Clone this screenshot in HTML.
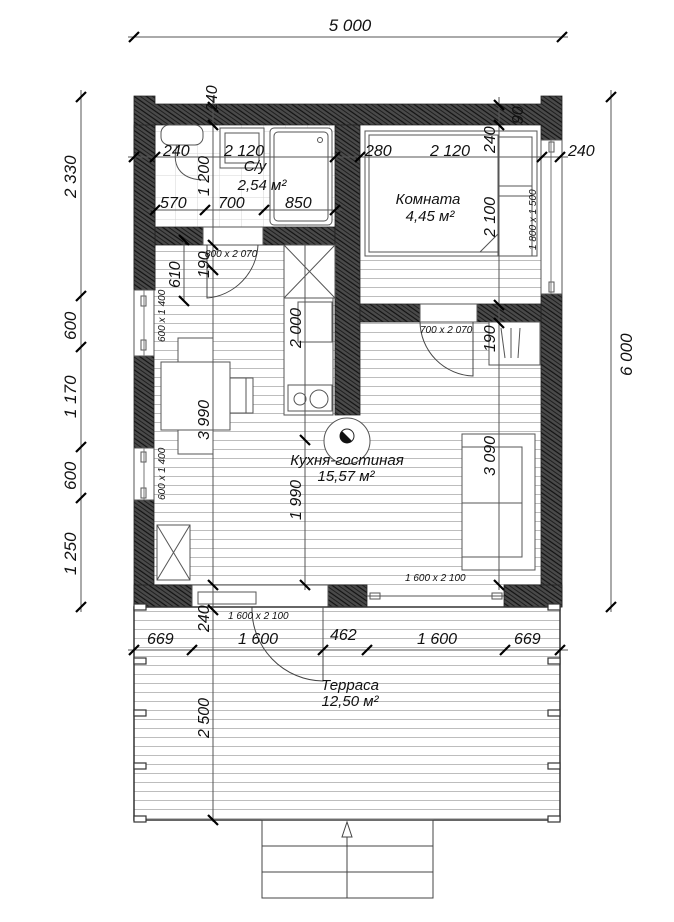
<!DOCTYPE html>
<html><head><meta charset="utf-8"><style>
html,body{margin:0;padding:0;background:#fff;}
svg{display:block;}
text{font-family:"Liberation Sans",sans-serif;font-style:italic;fill:#111;}
</style></head><body>
<svg width="674" height="922" viewBox="0 0 674 922" xmlns="http://www.w3.org/2000/svg">
<defs>
<pattern id="h" width="7" height="7" patternUnits="userSpaceOnUse" patternTransform="rotate(35)">
<rect width="7" height="7" fill="#4a4a4a"/>
<line x1="0" y1="2" x2="7" y2="2" stroke="#111" stroke-width="1.2"/>
<line x1="0" y1="5.5" x2="7" y2="5.5" stroke="#1a1a1a" stroke-width="0.9"/>
</pattern>
<pattern id="fl" width="10" height="9" patternUnits="userSpaceOnUse">
<line x1="0" y1="8.5" x2="10" y2="8.5" stroke="#bdbdbd" stroke-width="1"/>
</pattern>
<pattern id="tile" width="22" height="22" patternUnits="userSpaceOnUse">
<path d="M22 0V22H0" fill="none" stroke="#d4d4d4" stroke-width="1"/>
</pattern>
</defs>

<rect x="154" y="245" width="181" height="340" fill="url(#fl)"/>
<rect x="360" y="322" width="181" height="263" fill="url(#fl)"/>
<rect x="335" y="415" width="25" height="170" fill="url(#fl)"/>
<rect x="360" y="255" width="181" height="49" fill="url(#fl)"/>
<rect x="154" y="125" width="181" height="102" fill="url(#tile)"/>
<rect x="134" y="607" width="426" height="213" fill="url(#fl)"/>

<g fill="url(#h)" stroke="#222" stroke-width="0.8">
<path d="M134 96H155V104H541V96H562V140H541V125H155V290H134Z"/>
<rect x="134" y="356" width="20" height="92"/>
<rect x="134" y="500" width="20" height="107"/>
<rect x="541" y="294" width="21" height="313"/>
<rect x="134" y="585" width="58" height="22"/>
<rect x="328" y="585" width="39" height="22"/>
<rect x="504" y="585" width="58" height="22"/>
<rect x="155" y="227" width="48" height="18"/>
<rect x="263" y="227" width="72" height="18"/>
<rect x="335" y="125" width="25" height="290"/>
<rect x="360" y="304" width="60" height="18"/>
<rect x="477" y="304" width="64" height="18"/>
<rect x="134" y="125" width="21" height="165"/>
</g>
<g fill="#fff" stroke="#555" stroke-width="1">
<rect x="134" y="290" width="20" height="66"/>
<rect x="134" y="448" width="20" height="52"/>
<rect x="141" y="296" width="5" height="10"/><rect x="141" y="340" width="5" height="10"/>
<rect x="141" y="452" width="5" height="10"/><rect x="141" y="488" width="5" height="10"/>
<rect x="541" y="140" width="21" height="154"/>
<rect x="549" y="142" width="5" height="10"/><rect x="549" y="282" width="5" height="10"/>
</g>
<line x1="144" y1="290" x2="144" y2="356" stroke="#777"/>
<line x1="144" y1="448" x2="144" y2="500" stroke="#777"/>
<line x1="551" y1="140" x2="551" y2="294" stroke="#777"/>

<g fill="none" stroke="#555" stroke-width="1">
<rect x="192" y="585" width="136" height="22"/>
<rect x="198" y="592" width="58" height="12"/>
<line x1="367" y1="596" x2="504" y2="596"/>
<rect x="370" y="593" width="10" height="6"/><rect x="492" y="593" width="10" height="6"/>
<rect x="203" y="227" width="60" height="18"/>
<rect x="420" y="304" width="57" height="18"/>
</g>
<g fill="none" stroke="#444" stroke-width="1">
<path d="M207 245V298A56 56 0 0 0 258 245"/>
<path d="M473 322V376A55 55 0 0 1 420 322"/>
<path d="M323 607V681A72 72 0 0 1 252 607"/>
</g>

<rect x="134" y="607" width="426" height="213" fill="none" stroke="#333" stroke-width="1.5"/>
<g fill="#fff" stroke="#333" stroke-width="1.2">
<rect x="134" y="604" width="12" height="6"/><rect x="134" y="658" width="12" height="6"/><rect x="134" y="710" width="12" height="6"/><rect x="134" y="763" width="12" height="6"/><rect x="134" y="816" width="12" height="6"/>
<rect x="548" y="604" width="12" height="6"/><rect x="548" y="658" width="12" height="6"/><rect x="548" y="710" width="12" height="6"/><rect x="548" y="763" width="12" height="6"/><rect x="548" y="816" width="12" height="6"/>
</g>
<g fill="none" stroke="#444" stroke-width="1">
<rect x="262" y="820" width="171" height="78"/>
<line x1="262" y1="846" x2="433" y2="846"/><line x1="262" y1="872" x2="433" y2="872"/>
<line x1="347" y1="822" x2="347" y2="898"/>
<path d="M347 822L342 837H352Z" fill="#fff"/>
</g>

<g fill="#fff" stroke="#555" stroke-width="1">
<rect x="161" y="125" width="42" height="20" rx="8"/>
<rect x="220" y="128" width="44" height="40"/>
<rect x="225" y="133" width="34" height="30"/>
<rect x="270" y="128" width="62" height="97" rx="4"/>
<rect x="274" y="132" width="54" height="89" rx="4"/>
<circle cx="320" cy="140" r="2.5"/>
</g>
<path d="M177 145C170 170 185 180 205 180" fill="none" stroke="#555"/>
<g fill="#fff" stroke="#555" stroke-width="1">
<rect x="284" y="245" width="51" height="53"/>
<rect x="284" y="298" width="49" height="117"/>
<rect x="298" y="302" width="34" height="40"/>
<rect x="288" y="385" width="44" height="26"/>
<circle cx="300" cy="399" r="6"/><circle cx="319" cy="399" r="9"/>
<rect x="157" y="525" width="33" height="55"/>
<rect x="178" y="338" width="35" height="24"/><rect x="178" y="430" width="35" height="24"/>
<rect x="230" y="378" width="23" height="35"/><rect x="230" y="378" width="16" height="35"/>
<rect x="161" y="362" width="69" height="68"/>
<rect x="489" y="322" width="51" height="43"/>
<rect x="462" y="434" width="73" height="136"/>
<rect x="462" y="447" width="60" height="110"/>
<circle cx="347" cy="441" r="23"/>
</g>
<g stroke="#555" stroke-width="1">
<line x1="284" y1="245" x2="335" y2="298"/><line x1="335" y1="245" x2="284" y2="298"/>
<line x1="157" y1="525" x2="190" y2="580"/><line x1="190" y1="525" x2="157" y2="580"/>
<line x1="462" y1="503" x2="522" y2="503"/>
<line x1="501" y1="328" x2="505" y2="358"/><line x1="511" y1="328" x2="511" y2="358"/><line x1="520" y1="328" x2="518" y2="358"/>
</g>
<circle cx="347" cy="436" r="7" fill="#fff" stroke="#222"/>
<path d="M342 431L352 441A7 7 0 0 1 342 431Z" fill="#111"/>
<g fill="none" stroke="#555" stroke-width="1">
<rect x="365" y="131" width="172" height="125"/>
<rect x="369" y="135" width="129" height="117"/>
<rect x="498" y="137" width="34" height="119"/>
<line x1="498" y1="186" x2="532" y2="186"/><line x1="498" y1="196" x2="532" y2="196"/>
<path d="M480 252L498 234V252Z"/>
</g>

<g stroke="#555" stroke-width="1" fill="none">
<line x1="128" y1="37" x2="568" y2="37"/>
<line x1="81" y1="90" x2="81" y2="612"/>
<line x1="611" y1="90" x2="611" y2="612"/>
<line x1="128" y1="157" x2="568" y2="157"/>
<line x1="148" y1="210" x2="342" y2="210"/>
<line x1="128" y1="650" x2="568" y2="650"/>
<line x1="213" y1="97" x2="213" y2="822"/>
<line x1="305" y1="245" x2="305" y2="590"/>
<line x1="499" y1="97" x2="499" y2="590"/>
<line x1="184" y1="240" x2="184" y2="300"/>
<line x1="323" y1="607" x2="323" y2="650"/>
</g>
<g stroke="#000" stroke-width="2.2">
<path d="M129 42l10-10M557 42l10-10"/>
<path d="M76 102l10-10M76 301l10-10M76 352l10-10M76 452l10-10M76 503l10-10M76 612l10-10"/>
<path d="M606 102l10-10M606 612l10-10"/>
<path d="M129 162l10-10M150 162l10-10M330 162l10-10M355 162l10-10M537 162l10-10M555 162l10-10"/>
<path d="M150 215l10-10M200 215l10-10M259 215l10-10M330 215l10-10"/>
<path d="M129 655l10-10M187 655l10-10M318 655l10-10M362 655l10-10M500 655l10-10M555 655l10-10"/>
<path d="M208 102l10 10M208 120l10 10M208 240l10 10M208 265l10 10M208 580l10 10M208 605l10 10M208 815l10 10"/>
<path d="M300 435l10 10M300 580l10 10"/>
<path d="M494 100l10 10M494 120l10 10M494 300l10 10M494 318l10 10M494 580l10 10"/>
<path d="M179 235l10 10M179 296l10 10"/>
</g>

<g font-size="17">
<text x="350" y="31" text-anchor="middle">5 000</text>
<text x="163" y="156" font-size="16">240</text>
<text x="224" y="156" font-size="16">2 120</text>
<text x="365" y="156" font-size="16">280</text>
<text x="430" y="156" font-size="16">2 120</text>
<text x="568" y="156" font-size="16">240</text>
<text x="160" y="208" font-size="16">570</text>
<text x="218" y="208" font-size="16">700</text>
<text x="285" y="208" font-size="16">850</text>
<text x="147" y="644" font-size="16">669</text>
<text x="238" y="644" font-size="16">1 600</text>
<text x="330" y="640" font-size="16">462</text>
<text x="417" y="644" font-size="16">1 600</text>
<text x="514" y="644" font-size="16">669</text>
<text transform="translate(76,198) rotate(-90)">2 330</text>
<text transform="translate(76,340) rotate(-90)">600</text>
<text transform="translate(76,418) rotate(-90)">1 170</text>
<text transform="translate(76,490) rotate(-90)">600</text>
<text transform="translate(76,575) rotate(-90)">1 250</text>
<text transform="translate(632,376) rotate(-90)">6 000</text>
<text transform="translate(217,112) rotate(-90)" font-size="16">240</text>
<text transform="translate(209,196) rotate(-90)" font-size="16">1 200</text>
<text transform="translate(209,278) rotate(-90)" font-size="16">190</text>
<text transform="translate(180,288) rotate(-90)" font-size="16">610</text>
<text transform="translate(209,440) rotate(-90)" font-size="16">3 990</text>
<text transform="translate(301,348) rotate(-90)" font-size="16">2 000</text>
<text transform="translate(301,520) rotate(-90)" font-size="16">1 990</text>
<text transform="translate(209,632) rotate(-90)" font-size="16">240</text>
<text transform="translate(209,738) rotate(-90)" font-size="16">2 500</text>
<text transform="translate(495,153) rotate(-90)" font-size="16">240</text>
<text transform="translate(523,124) rotate(-90)" font-size="16">90</text>
<text transform="translate(495,237) rotate(-90)" font-size="16">2 100</text>
<text transform="translate(495,352) rotate(-90)" font-size="16">190</text>
<text transform="translate(495,476) rotate(-90)" font-size="16">3 090</text>
</g>
<g font-size="15" text-anchor="middle">
<text x="255" y="171">С/у</text>
<text x="262" y="190">2,54 м²</text>
<text x="428" y="204">Комната</text>
<text x="430" y="221">4,45 м²</text>
<text x="347" y="465">Кухня-гостиная</text>
<text x="346" y="481">15,57 м²</text>
<text x="350" y="690">Терраса</text>
<text x="350" y="706">12,50 м²</text>
</g>
<g font-size="10">
<text x="205" y="257">800 x 2 070</text>
<text x="420" y="333">700 x 2 070</text>
<text x="405" y="581">1 600 x 2 100</text>
<text x="228" y="619">1 600 x 2 100</text>
<text transform="translate(165,342) rotate(-90)">600 x 1 400</text>
<text transform="translate(165,500) rotate(-90)">600 x 1 400</text>
<text transform="translate(536,250) rotate(-90)">1 800 x 1 500</text>
</g>
</svg>
</body></html>
